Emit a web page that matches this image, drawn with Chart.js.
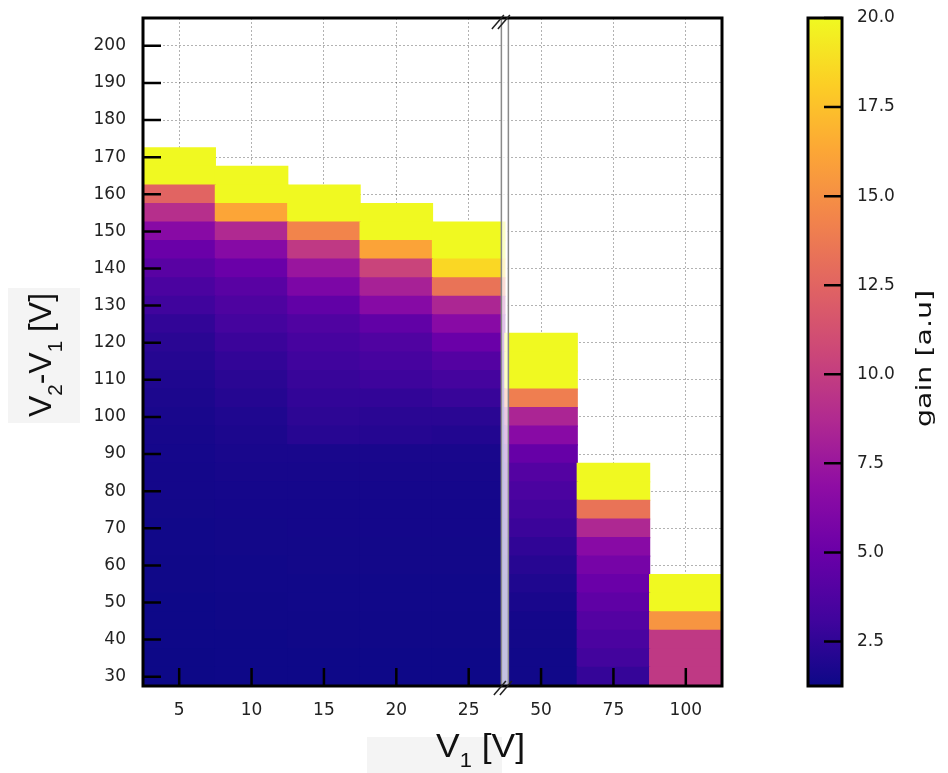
<!DOCTYPE html>
<html>
<head>
<meta charset="utf-8">
<script src="https://cdn.jsdelivr.net/npm/chart.js@4.4.0/dist/chart.umd.min.js"></script>
<style>
  body { margin: 0; background: #fff; }
  #wrap { position: relative; width: 948px; height: 773px; }
  canvas { position: absolute; left: 0; top: 0; }
</style>
</head>
<body>
<div id="wrap">
  <canvas id="heatmap" width="948" height="773"></canvas>
  <canvas id="colorbar" width="948" height="773"></canvas>
</div>
<script>
// V1 columns (axis is broken between 25 and 50)
const v1Labels = ['5', '10', '15', '20', '25', '50', '75', '100'];
// V2-V1 rows, bottom to top
const dvRows = [30, 35, 40, 45, 50, 55, 60, 65, 70, 75, 80, 85, 90, 95, 100,
                105, 110, 115, 120, 125, 130, 135, 140, 145, 150, 155, 160, 165, 170];
const yTicks = [30, 40, 50, 60, 70, 80, 90, 100, 110, 120, 130, 140, 150, 160, 170, 180, 190, 200];
const cbTicks = [2.5, 5, 7.5, 10, 12.5, 15, 17.5, 20];
const gainMin = 1.25;
const gainMax = 20;

// gain for each V1 column, one value per row from 30 V upwards (null = no data)
const gain5   = [1.25, 1.25, 1.3, 1.3, 1.3, 1.35, 1.35, 1.4, 1.4, 1.45, 1.5, 1.5, 1.55, 1.6, 1.7,
                 1.8, 1.9, 2.1, 2.3, 2.6, 3.1, 3.6, 4.2, 5.0, 6.5, 9.1, 12.5, 20, 20];
const gain10  = [1.3, 1.3, 1.3, 1.35, 1.35, 1.4, 1.4, 1.45, 1.45, 1.5, 1.55, 1.6, 1.7, 1.8, 1.9,
                 2.1, 2.3, 2.6, 2.9, 3.3, 3.7, 4.2, 5.0, 6.4, 8.7, 16.2, 20, 20, null];
const gain15  = [1.3, 1.3, 1.35, 1.35, 1.4, 1.4, 1.45, 1.45, 1.5, 1.5, 1.55, 1.6, 1.7, 2.2, 2.4,
                 2.6, 2.8, 3.1, 3.4, 3.8, 4.6, 5.9, 7.4, 9.7, 14.4, 20, 20, null, null];
const gain20  = [1.3, 1.3, 1.35, 1.35, 1.4, 1.4, 1.45, 1.45, 1.5, 1.5, 1.55, 1.6, 1.7, 2.1, 2.3,
                 2.6, 3.0, 3.4, 3.8, 4.6, 6.4, 8.2, 10.4, 16.1, 20, 20, null, null, null];
const gain25  = [1.3, 1.3, 1.35, 1.35, 1.4, 1.4, 1.45, 1.45, 1.5, 1.5, 1.55, 1.6, 1.7, 2.0, 2.3,
                 2.8, 3.3, 4.0, 5.0, 6.5, 8.5, 13.4, 18.5, 20, 20, null, null, null, null];
const gain50  = [1.4, 1.4, 1.45, 1.5, 1.7, 1.9, 2.2, 2.5, 2.9, 3.2, 3.6, 4.0, 4.8, 6.5, 8.4,
                 14, 20, 20, 20, null, null, null, null, null, null, null, null, null, null];
const gain75  = [2.7, 3.2, 3.6, 4.0, 4.5, 5.0, 5.6, 6.5, 8.6, 13.4, 20, 20, null, null, null,
                 null, null, null, null, null, null, null, null, null, null, null, null, null, null];
const gain100 = [9.7, 9.7, 9.7, 15.3, 20, 20, null, null, null, null, null, null, null, null, null,
                 null, null, null, null, null, null, null, null, null, null, null, null, null, null];

const gainCols = [gain5, gain10, gain15, gain20, gain25, gain50, gain75, gain100];

// matplotlib "plasma"
const plasma = ['#0d0887', '#41049d', '#6a00a8', '#8f0da4', '#b12a90', '#cc4778',
                '#e16462', '#f2844b', '#fca636', '#fcce25', '#f0f921'];

function hexRgb(h) {
  return [1, 3, 5].map(i => parseInt(h.substr(i, 2), 16));
}

function gainColor(v) {
  let t = (v - gainMin) / (gainMax - gainMin);
  t = Math.max(0, Math.min(1, t)) * (plasma.length - 1);
  const i = Math.min(Math.floor(t), plasma.length - 2);
  const f = t - i;
  const a = hexRgb(plasma[i]), b = hexRgb(plasma[i + 1]);
  const c = a.map((x, k) => Math.round(x + (b[k] - x) * f));
  return 'rgb(' + c.join(',') + ')';
}

const rowStep = dvRows[1] - dvRows[0];

// one floating-bar dataset per row
const heatSets = dvRows.map((dv, r) => ({
  data: gainCols.map(col => col[r] == null ? null : [dv - rowStep / 2, dv + rowStep / 2]),
  backgroundColor: gainCols.map(col => col[r] == null ? 'rgba(0,0,0,0)' : gainColor(col[r])),
  borderWidth: 0,
  inflateAmount: 0.6,
  grouped: false,
  categoryPercentage: 1,
  barPercentage: 1
}));

Chart.defaults.font.family = 'DejaVu Sans';
Chart.defaults.color = '#222';

// text with sub-scripts, stretched to a given length
function drawTitle(ctx, parts, x, y, angle, length, family) {
  ctx.save();
  ctx.translate(x, y);
  ctx.rotate(angle);
  let w = 0;
  parts.forEach(p => {
    ctx.font = p.size + 'px "' + family + '"';
    w += ctx.measureText(p.text).width;
  });
  ctx.scale(length / w, 1);
  ctx.fillStyle = '#111';
  ctx.textBaseline = 'alphabetic';
  ctx.textAlign = 'left';
  let cx = 0;
  parts.forEach(p => {
    ctx.font = p.size + 'px "' + family + '"';
    ctx.fillText(p.text, cx, p.dy || 0);
    cx += ctx.measureText(p.text).width;
  });
  ctx.restore();
}

// keep chart area where the layout padding puts it
function noScalePad(s) {
  s.paddingTop = 0;
  s.paddingBottom = 0;
  s.paddingLeft = 0;
  s.paddingRight = 0;
}

const heatDecor = {
  id: 'heatDecor',
  afterDraw(chart) {
    const { ctx, chartArea: a, scales: { x, y } } = chart;
    ctx.save();

    // axis break: double line between 25 and 50
    const bx = (x.getPixelForValue(4) + x.getPixelForValue(5)) / 2;
    ctx.fillStyle = 'rgba(255,255,255,0.75)';
    ctx.fillRect(bx - 3.5, a.top, 7, a.bottom - a.top);
    ctx.strokeStyle = '#8a8a8a';
    ctx.lineWidth = 1.5;
    ctx.beginPath();
    ctx.moveTo(bx - 3.5, a.top); ctx.lineTo(bx - 3.5, a.bottom);
    ctx.moveTo(bx + 3.5, a.top); ctx.lineTo(bx + 3.5, a.bottom);
    ctx.stroke();

    // inward ticks
    ctx.strokeStyle = '#000';
    ctx.lineWidth = 2.5;
    ctx.beginPath();
    y.ticks.forEach(t => {
      const py = y.getPixelForValue(t.value);
      ctx.moveTo(a.left, py); ctx.lineTo(a.left + 18, py);
    });
    x.ticks.forEach((t, i) => {
      const px = x.getPixelForTick(i);
      ctx.moveTo(px, a.bottom); ctx.lineTo(px, a.bottom - 18);
    });
    ctx.stroke();

    // frame
    ctx.lineWidth = 3;
    ctx.strokeRect(a.left, a.top, a.right - a.left, a.bottom - a.top);

    // break marks //
    ctx.strokeStyle = '#222';
    ctx.lineWidth = 1.5;
    [[a.top + 4, -4], [a.bottom + 2, -2]].forEach(([py, off]) => {
      [-3, 3].forEach(d => {
        ctx.beginPath();
        ctx.moveTo(bx + off + d - 6, py + 7);
        ctx.lineTo(bx + off + d + 6, py - 7);
        ctx.stroke();
      });
    });

    // axis titles on light grey boxes
    ctx.fillStyle = '#f4f4f4';
    ctx.fillRect(367, 737, 135, 36);
    ctx.fillRect(8, 288, 72, 135);
    ctx.restore();

    drawTitle(ctx, [
      { text: 'V', size: 34 },
      { text: '1', size: 21, dy: 10 },
      { text: ' [V]', size: 34 }
    ], 436, 757, 0, 89, 'Liberation Sans');

    drawTitle(ctx, [
      { text: 'V', size: 31 },
      { text: '2', size: 20, dy: 11 },
      { text: '-', size: 31 },
      { text: 'V', size: 31 },
      { text: '1', size: 20, dy: 11 },
      { text: ' [V]', size: 31 }
    ], 51, 417, -Math.PI / 2, 124, 'Liberation Sans');
  }
};

new Chart(document.getElementById('heatmap'), {
  type: 'bar',
  data: { labels: v1Labels, datasets: heatSets },
  options: {
    responsive: false,
    animation: false,
    events: [],
    layout: { padding: { left: 0, top: 18, right: 226, bottom: 0 } },
    plugins: { legend: { display: false }, tooltip: { enabled: false } },
    scales: {
      x: {
        z: 1,
        afterFit: s => { s.height = 87; noScalePad(s); },
        grid: { offset: false, drawTicks: false, color: 'rgba(0,0,0,0.3)', lineWidth: 1 },
        border: { display: false, dash: [2, 2] },
        ticks: { padding: 14, font: { size: 17 } }
      },
      y: {
        z: 1,
        min: dvRows[0] - rowStep / 2,
        max: 207.5,
        afterFit: s => { s.width = 143; noScalePad(s); },
        afterBuildTicks: s => { s.ticks = yTicks.map(v => ({ value: v })); },
        grid: { drawTicks: false, color: 'rgba(0,0,0,0.3)', lineWidth: 1 },
        border: { display: false, dash: [2, 2] },
        ticks: { padding: 17, font: { size: 17 }, autoSkip: false }
      }
    }
  },
  plugins: [heatDecor]
});

// colour bar
const cbDecor = {
  id: 'cbDecor',
  afterDraw(chart) {
    const { ctx, chartArea: a, scales: { y } } = chart;
    ctx.save();
    ctx.strokeStyle = '#000';
    ctx.lineWidth = 2.5;
    ctx.beginPath();
    y.ticks.forEach(t => {
      const py = y.getPixelForValue(t.value);
      ctx.moveTo(a.right, py); ctx.lineTo(a.right - 18, py);
    });
    ctx.stroke();
    ctx.lineWidth = 3;
    ctx.strokeRect(a.left, a.top, a.right - a.left, a.bottom - a.top);
    ctx.restore();
    drawTitle(ctx, [{ text: 'gain [a.u]', size: 22 }], 931, 427, -Math.PI / 2, 137, 'DejaVu Sans');
  }
};

new Chart(document.getElementById('colorbar'), {
  type: 'bar',
  data: {
    labels: ['gain'],
    datasets: [{
      data: [[gainMin, gainMax]],
      backgroundColor: c => {
        const a = c.chart.chartArea;
        if (!a) return null;
        const g = c.chart.ctx.createLinearGradient(0, a.bottom, 0, a.top);
        plasma.forEach((col, i) => g.addColorStop(i / (plasma.length - 1), col));
        return g;
      },
      borderWidth: 0,
      categoryPercentage: 1,
      barPercentage: 1
    }]
  },
  options: {
    responsive: false,
    animation: false,
    events: [],
    layout: { padding: { left: 808, top: 18, right: 46, bottom: 87 } },
    plugins: { legend: { display: false }, tooltip: { enabled: false } },
    scales: {
      x: { display: false },
      y: {
        position: 'right',
        min: gainMin,
        max: gainMax,
        afterFit: s => { s.width = 60; noScalePad(s); },
        afterBuildTicks: s => { s.ticks = cbTicks.map(v => ({ value: v })); },
        grid: { display: false, drawTicks: false },
        border: { display: false },
        ticks: { padding: 15, font: { size: 17 }, callback: v => v.toFixed(1) }
      }
    }
  },
  plugins: [cbDecor]
});
</script>
</body>
</html>
